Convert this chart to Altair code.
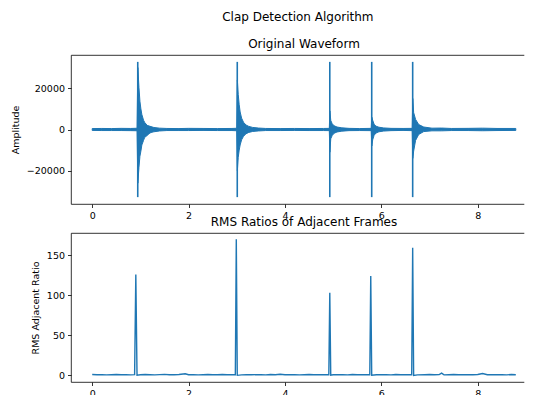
import altair as alt
import pandas as pd

BLUE = "#1f77b4"
FONT = "DejaVu Sans"

# ---- Original waveform: envelope (upper / lower) ----
wave_t = [0.00, 0.20, 0.40, 0.60, 0.80, 0.93,
          0.947, 0.97, 0.99, 1.01, 1.03, 1.065, 1.09, 1.14, 1.18, 1.22, 1.28, 1.40, 1.55,
          1.80, 2.00, 2.30, 2.60, 2.90, 3.00,
          3.012, 3.03, 3.05, 3.07, 3.10, 3.14, 3.19, 3.25, 3.33, 3.45, 3.60,
          3.90, 4.20, 4.50, 4.80, 4.92,
          4.932, 4.95, 4.98, 5.02, 5.08, 5.18, 5.33, 5.55, 5.79,
          5.802, 5.82, 5.85, 5.89, 5.95, 6.05, 6.20, 6.45, 6.64,
          6.652, 6.67, 6.71, 6.775, 6.88, 7.05, 7.25, 7.45, 7.80, 8.10, 8.40, 8.79]
wave_upper = [450, 500, 450, 550, 500, 600,
              30000, 20400, 13700, 10000, 7300, 4500, 3400, 2000, 1700, 1400, 970, 650, 500,
              450, 550, 500, 450, 500, 600,
              24000, 17000, 12000, 8500, 5500, 3500, 2200, 1500, 1000, 700, 500,
              450, 500, 450, 500, 550,
              9000, 4400, 2800, 1800, 1200, 800, 550, 450, 550,
              6000, 4500, 2500, 1600, 1100, 750, 550, 500, 550,
              15000, 8200, 4900, 2400, 1200, 650, 700, 500, 550, 650, 500, 500]
wave_lower = [-450, -500, -500, -500, -550, -600,
              -26000, -18400, -13000, -10500, -7500, -5300, -3800, -2900, -2000, -1450, -1100, -700, -500,
              -500, -500, -450, -500, -500, -600,
              -20000, -13500, -10000, -7500, -5000, -3300, -2100, -1400, -950, -700, -500,
              -500, -450, -500, -500, -550,
              -11000, -4500, -2900, -1800, -1200, -800, -550, -500, -550,
              -8000, -5000, -2800, -1700, -1100, -750, -550, -450, -550,
              -14000, -10500, -5300, -2400, -1000, -650, -650, -500, -500, -600, -500, -450]

# full-scale clap spikes
spike_t = [0.945, 3.01, 4.93, 5.80, 6.65]
spike_top = [32767, 32767, 32767, 32767, 32767]
spike_bottom = [-32768, -32768, -32768, -32768, -32768]

# ---- RMS ratios of adjacent frames ----
rms_t = [0.0, 0.1, 0.2, 0.3, 0.4, 0.5, 0.6, 0.7, 0.8, 0.88, 0.905, 0.93,
         1.0, 1.1, 1.2, 1.3, 1.4, 1.5, 1.6, 1.7, 1.8, 1.93, 2.0, 2.1, 2.2, 2.3, 2.4,
         2.5, 2.6, 2.7, 2.8, 2.97, 2.99, 3.01,
         3.1, 3.2, 3.3, 3.4, 3.5, 3.6, 3.7, 3.8, 3.9, 4.0, 4.1, 4.2, 4.3, 4.4, 4.5,
         4.6, 4.7, 4.8, 4.91, 4.93, 4.95,
         5.0, 5.1, 5.2, 5.3, 5.4, 5.5, 5.6, 5.7, 5.76, 5.78, 5.80,
         5.9, 6.0, 6.1, 6.2, 6.3, 6.4, 6.5, 6.63, 6.65, 6.67,
         6.75, 6.9, 7.0, 7.1, 7.2, 7.25, 7.3, 7.4, 7.5, 7.6, 7.7, 7.8, 7.9, 8.0,
         8.1, 8.2, 8.3, 8.4, 8.5, 8.6, 8.7, 8.79]
rms_v = [1.2, 0.9, 1.1, 0.8, 1.0, 1.3, 0.9, 1.1, 0.8, 1.0, 125.9, 0.3,
         0.9, 1.2, 1.0, 0.8, 1.1, 1.4, 0.9, 1.0, 1.2, 2.2, 0.9, 1.1, 0.8, 1.0, 1.3,
         0.9, 1.0, 1.2, 0.9, 1.0, 169.6, 0.2,
         0.8, 1.0, 0.9, 1.1, 1.0, 0.8, 1.2, 0.9, 1.5, 1.0, 0.9, 1.1, 0.8, 1.0, 1.2,
         0.9, 1.0, 1.1, 1.0, 103.0, 0.3,
         0.9, 1.1, 1.0, 0.8, 1.2, 1.0, 0.9, 1.1, 1.0, 123.8, 0.3,
         0.9, 1.1, 1.0, 0.8, 1.2, 0.9, 1.0, 1.0, 159.2, 0.2,
         0.8, 1.0, 1.2, 0.9, 1.1, 3.0, 0.8, 1.0, 1.2, 0.9, 1.1, 1.0, 0.9, 1.2,
         2.5, 1.0, 0.9, 1.1, 1.0, 0.8, 1.2, 0.9]

x_ticks = [0, 2, 4, 6, 8]
amp_ticks = [-20000, 0, 20000]
rms_ticks = [0, 50, 100, 150]

env_df = pd.DataFrame({"t": wave_t, "upper": wave_upper, "lower": wave_lower})
spk_df = pd.DataFrame({"t": spike_t, "top": spike_top, "bottom": spike_bottom})
rms_df = pd.DataFrame({"t": rms_t, "ratio": rms_v})

W, H = 453, 149
xscale = alt.Scale(domain=[-0.44, 8.96], nice=False, zero=False)
xaxis = alt.Axis(values=x_ticks, title=None, format="d")

title_kw = dict(fontSize=12, font=FONT, fontWeight="normal", color="#000",
                anchor="middle", baseline="alphabetic", offset=-4.5, dx=6.5)

env = alt.Chart(env_df).mark_area(color=BLUE, stroke=BLUE, strokeWidth=1, opacity=1).encode(
    x=alt.X("t:Q", scale=xscale, axis=xaxis),
    y=alt.Y("upper:Q", scale=alt.Scale(domain=[-36100, 36100], nice=False, zero=False),
            axis=alt.Axis(values=amp_ticks, title="Amplitude", format="d")),
    y2="lower:Q",
)
spikes = alt.Chart(spk_df).mark_rule(color=BLUE, strokeWidth=1.6).encode(
    x=alt.X("t:Q", scale=xscale, axis=xaxis),
    y=alt.Y("top:Q"),
    y2="bottom:Q",
)
top = alt.layer(env, spikes).properties(
    width=W, height=H, title=alt.TitleParams("Original Waveform", **title_kw)
)

bottom = alt.Chart(rms_df).mark_line(color=BLUE, strokeWidth=1.4).encode(
    x=alt.X("t:Q", scale=xscale, axis=xaxis),
    y=alt.Y("ratio:Q", scale=alt.Scale(domain=[-8.1, 177.5], nice=False, zero=False),
            axis=alt.Axis(values=rms_ticks, title="RMS Adjacent Ratio", format="d")),
).properties(
    width=W, height=H, title=alt.TitleParams("RMS Ratios of Adjacent Frames", **title_kw)
)

chart = alt.vconcat(top, bottom, spacing=29, bounds="flush").properties(
    title=alt.TitleParams("Clap Detection Algorithm", fontSize=12, font=FONT,
                          fontWeight="normal", color="#000", anchor="middle",
                          baseline="alphabetic", offset=4, dx=30.7),
    padding={"left": 1, "top": 3, "right": 0, "bottom": 0},
).configure_axis(
    labelFont=FONT, titleFont=FONT, labelFontSize=9.5, titleFontSize=9.5,
    titleFontWeight="normal", labelColor="#000", titleColor="#000",
    tickColor="#000", tickSize=3.5, tickWidth=0.8, labelPadding=3,
    titlePadding=6, domain=False, grid=False, labelFlush=False,
).configure_view(
    stroke="#000", strokeWidth=0.8, strokeDash=[W, H, W + H]
)

chart.save("out.html", embed_options={"renderer": "svg", "actions": False})
